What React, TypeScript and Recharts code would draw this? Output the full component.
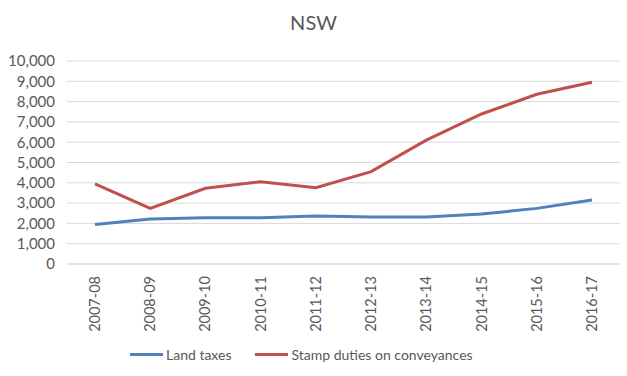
import { CartesianGrid, Line, LineChart, XAxis, YAxis } from 'recharts'

const years = ['2007-08', '2008-09', '2009-10', '2010-11', '2011-12', '2012-13', '2013-14', '2014-15', '2015-16', '2016-17']
const landTaxes = [1950, 2220, 2280, 2280, 2360, 2310, 2310, 2460, 2740, 3150]
const stampDuties = [3950, 2740, 3730, 4050, 3760, 4550, 6100, 7390, 8360, 8950]
const yTicks = [0, 1000, 2000, 3000, 4000, 5000, 6000, 7000, 8000, 9000, 10000]

const data = years.map((year, i) => ({ year, land: landTaxes[i], stamp: stampDuties[i] }))

const FONT = 'Lato, "Open Sans", sans-serif'
const GREY = '#595959'
const BLUE = '#4F81BD'
const RED = '#C0504D'

if (typeof document !== 'undefined') document.body.style.margin = '0'

// rotated category labels, reading bottom-to-top like Excel
function YearTick({ x, y, payload }: any) {
  return (
    <g transform={`translate(${x},${y + 4})`}>
      <text transform="rotate(-90)" textAnchor="end" dy={5} fill={GREY} fontSize={14.5} fontFamily={FONT}>
        {payload.value}
      </text>
    </g>
  )
}

function LegendRow() {
  const items = [
    { label: 'Land taxes', color: BLUE },
    { label: 'Stamp duties on conveyances', color: RED },
  ]
  return (
    <div style={{ position: 'absolute', top: 346, left: 130, display: 'flex', gap: 24, fontFamily: FONT, fontSize: 14, color: GREY }}>
      {items.map((it) => (
        <div key={it.label} style={{ display: 'flex', alignItems: 'center' }}>
          <span style={{ display: 'inline-block', width: 33, height: 3, background: it.color, marginRight: 3 }} />
          {it.label}
        </div>
      ))}
    </div>
  )
}

export default function App() {
  return (
    <div style={{ position: 'relative', width: 627, height: 376, background: '#fff' }}>
      <div style={{ position: 'absolute', top: 10, width: 627, textAlign: 'center', fontFamily: FONT, fontSize: 20, color: GREY }}>
        NSW
      </div>
      <LineChart width={627} height={376} data={data} margin={{ top: 61, right: 7, left: 0, bottom: 42 }}>
        <CartesianGrid vertical={false} stroke="#d9d9d9" />
        <XAxis
          dataKey="year"
          axisLine={{ stroke: '#d9d9d9' }}
          tickLine={false}
          padding={{ left: 28, right: 28 }}
          height={70}
          interval={0}
          tick={<YearTick />}
        />
        <YAxis
          domain={[0, 10000]}
          ticks={yTicks}
          interval={0}
          width={67}
          axisLine={false}
          tickLine={false}
          tickMargin={6}
          tickFormatter={(v: number) => v.toLocaleString('en-US')}
          tick={{ fill: GREY, fontSize: 15, fontFamily: FONT }}
        />
        <Line dataKey="land" name="Land taxes" stroke={BLUE} strokeWidth={3} dot={false} isAnimationActive={false} />
        <Line dataKey="stamp" name="Stamp duties on conveyances" stroke={RED} strokeWidth={3} dot={false} isAnimationActive={false} />
      </LineChart>
      <LegendRow />
    </div>
  )
}
